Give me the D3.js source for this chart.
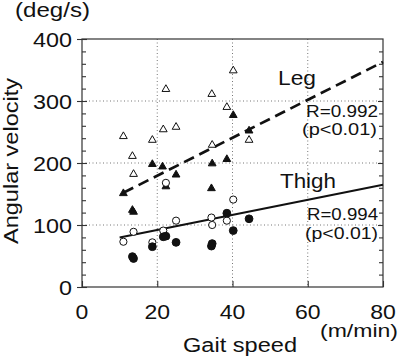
<!DOCTYPE html>
<html><head><meta charset="utf-8">
<script src="https://cdn.jsdelivr.net/npm/d3@7"></script>
<style>html,body{margin:0;padding:0;background:#fff;}svg{display:block;}</style>
</head><body>
<svg id="c" width="400" height="357"></svg>
<script>
// ---- data ----
const xTicks = [0, 20, 40, 60, 80];
const yTicks = [0, 100, 200, 300, 400];
const legOpenX = [11.0, 13.4, 13.7, 18.7, 21.6, 22.3, 25.0, 34.5, 34.6, 38.5, 40.2, 44.4];
const legOpenY = [243, 211, 182, 237, 254, 319, 258, 311, 229, 290, 349, 237];
const legFilledX = [11.0, 13.4, 13.7, 18.7, 21.4, 22.3, 25.0, 34.4, 34.6, 38.5, 40.2, 44.4];
const legFilledY = [151, 124, 121, 198, 194, 162, 181, 159, 199, 206, 277, 252];
const thighOpenX = [11.0, 13.7, 18.7, 21.6, 22.3, 25.0, 34.4, 34.6, 38.5, 40.2];
const thighOpenY = [73, 89, 72, 91, 168, 107, 112, 100, 107, 141];
const thighFilledX = [13.4, 13.7, 18.7, 21.6, 22.3, 25.0, 34.4, 34.6, 38.5, 40.2, 44.4];
const thighFilledY = [49, 46, 65, 81, 82, 72, 66, 70, 119, 91, 110];
const legFitX = [11, 80];
const legFitY = [152, 363];
const thighFitX = [10, 80];
const thighFitY = [80, 165];

const svg = d3.select("#c");
const x = d3.scaleLinear().domain([0, 80]).range([82, 383]);
const y = d3.scaleLinear().domain([0, 400]).range([287, 39]);
const FONT = "'Liberation Sans', Arial, sans-serif";
const INK = "#111";

function txt(str, px, py, size, anchor, width, rot) {
  const t = svg.append("text").text(str)
    .attr("font-family", FONT).attr("font-size", size)
    .attr("fill", INK).attr("text-anchor", anchor || "start");
  if (width) t.attr("textLength", width).attr("lengthAdjust", "spacingAndGlyphs");
  if (rot) t.attr("transform", `translate(${px},${py}) rotate(${rot})`);
  else t.attr("x", px).attr("y", py);
  return t;
}

// grid
const grid = svg.append("g").attr("stroke", "#777").attr("stroke-width", 1)
  .attr("stroke-dasharray", "1,2.5");
[20, 40, 60].forEach(v => grid.append("line")
  .attr("x1", x(v)).attr("x2", x(v)).attr("y1", y(400)).attr("y2", y(0)));
[100, 200, 300].forEach(v => grid.append("line")
  .attr("x1", x(0)).attr("x2", x(80)).attr("y1", y(v)).attr("y2", y(v)));

// axes via d3
const axCol = "#333";
function styleAxis(g) {
  g.select(".domain").remove();
  g.selectAll("line").attr("stroke", axCol).attr("stroke-width", 1.1);
  g.selectAll("text").remove();
}
const yMinor = d3.range(0, 401, 20).filter(v => v % 100 !== 0);
svg.append("g").attr("transform", `translate(${x(0)},0)`)
  .call(d3.axisRight(y).tickValues(yMinor).tickSize(4)).call(styleAxis);
svg.append("g").attr("transform", `translate(${x(0)},0)`)
  .call(d3.axisRight(y).tickValues(yTicks).tickSize(5)).call(styleAxis);
svg.append("g").attr("transform", `translate(${x(0)},0)`)
  .call(d3.axisLeft(y).tickValues(yTicks).tickSize(5)).call(styleAxis);
svg.append("g").attr("transform", `translate(${x(80)},0)`)
  .call(d3.axisLeft(y).tickValues(yMinor).tickSize(4)).call(styleAxis);
svg.append("g").attr("transform", `translate(${x(80)},0)`)
  .call(d3.axisLeft(y).tickValues([100, 200, 300]).tickSize(5)).call(styleAxis);
svg.append("g").attr("transform", `translate(0,${y(0)})`)
  .call(d3.axisTop(x).tickValues(xTicks).tickSize(6)).call(styleAxis);

// frame
svg.append("rect").attr("x", x(0)).attr("y", y(400))
  .attr("width", x(80) - x(0)).attr("height", y(0) - y(400))
  .attr("fill", "none").attr("stroke", axCol).attr("stroke-width", 1.2);

// tick labels
yTicks.forEach(v => txt(String(v), 72, y(v) + 7.5, 19.5, "end", String(v).length * 13));
xTicks.forEach(v => txt(String(v), x(v), 319, 19.5, "middle", String(v).length * 12.8));

// axis titles
txt("(deg/s)", 15, 17, 19.5, "start", 75);
txt("Angular velocity", 18, 161, 20, "middle", 166, -90);
txt("Gait speed", 240, 352, 20, "middle", 114);
txt("(m/min)", 359, 337, 18, "middle", 78);

// fit lines
const line = d3.line().x(d => x(d[0])).y(d => y(d[1]));
svg.append("path").datum(d3.zip(legFitX, legFitY)).attr("d", line)
  .attr("fill", "none").attr("stroke", "#111").attr("stroke-width", 2.7)
  .attr("stroke-dasharray", "11,6");
svg.append("path").datum(d3.zip(thighFitX, thighFitY)).attr("d", line)
  .attr("fill", "none").attr("stroke", "#111").attr("stroke-width", 2);

// markers
const tri = d3.symbol().type(d3.symbolTriangle).size(26);
function triangles(xs, ys, fill) {
  svg.append("g").selectAll("path").data(d3.zip(xs, ys)).join("path")
    .attr("d", tri).attr("transform", d => `translate(${x(d[0])},${y(d[1])})`)
    .attr("fill", fill).attr("stroke", "#111").attr("stroke-width", 1);
}
function circles(xs, ys, fill, r) {
  svg.append("g").selectAll("circle").data(d3.zip(xs, ys)).join("circle")
    .attr("cx", d => x(d[0])).attr("cy", d => y(d[1])).attr("r", r)
    .attr("fill", fill).attr("stroke", "#111").attr("stroke-width", 1);
}
triangles(legOpenX, legOpenY, "#fff");
triangles(legFilledX, legFilledY, "#111");
circles(thighOpenX, thighOpenY, "#fff", 3.6);
circles(thighFilledX, thighFilledY, "#111", 3.9);

// annotations
txt("Leg", 278, 85, 20.5, "start", 38);
txt("R=0.992", 306, 116.5, 16.5, "start", 72);
txt("(p<0.01)", 302, 134.5, 16.5, "start", 75);
txt("Thigh", 280, 187.5, 20.5, "start", 56);
txt("R=0.994", 307, 220, 16.5, "start", 71);
txt("(p<0.01)", 305, 238.5, 16.5, "start", 73);
</script>
</body></html>
